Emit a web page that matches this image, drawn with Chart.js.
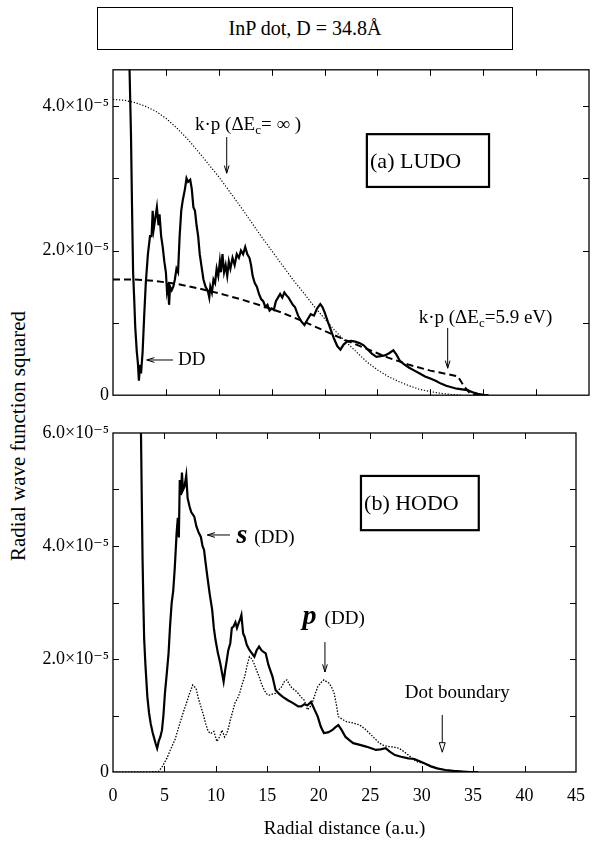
<!DOCTYPE html>
<html>
<head>
<meta charset="utf-8">
<script src="https://cdn.jsdelivr.net/npm/chart.js@4.4.1/dist/chart.umd.min.js"></script>
<style>
  body { margin: 0; background: #fff; width: 598px; height: 842px; position: relative; overflow: hidden; }
  .panel { position: absolute; left: 0; }
  #titleBox {
    position: absolute; left: 97px; top: 7px; width: 416px; height: 43px;
    box-sizing: border-box; border: 1px solid #000;
    font: 20px "Liberation Serif", "DejaVu Serif", serif;
    display: flex; align-items: center; justify-content: center;
  }
  #yTitle {
    position: absolute; left: 18px; top: 436px; width: 300px;
    transform: translate(-50%, -50%) rotate(-90deg);
    text-align: center; white-space: nowrap;
    font: 21px "Liberation Serif", "DejaVu Serif", serif;
  }
</style>
</head>
<body>
<div id="titleBox">InP dot, D = 34.8Å</div>
<div id="yTitle">Radial wave function squared</div>
<canvas id="topChart" class="panel" style="top:55px" width="598" height="355"></canvas>
<canvas id="bottomChart" class="panel" style="top:415px" width="598" height="427"></canvas>
<script>
// all values are in units of 1e-5, x in a.u.

// (a) LUDO, direct diagonalisation
const ludoDD = [
  [1.55,4.6],[1.7,3.6],[1.8,2.6],[1.9,1.7],[2.0,1.35],[2.1,0.95],[2.25,0.6],[2.35,0.45],[2.45,0.2],[2.55,0.42],
  [2.65,0.3],[2.8,0.6],[2.95,1.1],[3.1,1.55],[3.3,1.95],[3.5,2.2],[3.65,2.2],[3.75,2.55],[3.85,2.3],[4.0,2.45],
  [4.15,2.6],[4.3,2.35],[4.4,2.5],[4.55,2.2],[4.7,2.05],[4.85,1.85],[5.0,1.7],[5.1,1.45],[5.2,1.55],[5.3,1.25],
  [5.4,1.5],[5.55,1.45],[5.7,1.5],[5.85,1.6],[6.0,1.75],[6.15,1.7],[6.3,2.2],[6.45,2.55],[6.6,2.7],[6.8,2.85],
  [6.95,3.0],[7.1,2.95],[7.3,2.98],[7.45,2.85],[7.6,2.6],[7.75,2.55],[7.9,2.35],[8.05,2.2],[8.2,1.95],[8.35,1.8],
  [8.55,1.6],[8.75,1.5],[8.95,1.45],[9.1,1.35],[9.2,1.5],[9.35,1.42],[9.5,1.6],[9.65,1.55],[9.8,1.75],[9.95,1.65],
  [10.1,1.85],[10.2,1.7],[10.35,1.95],[10.5,1.7],[10.65,1.8],[10.8,1.65],[10.95,1.85],[11.1,1.75],[11.3,1.9],[11.5,1.8],
  [11.7,1.95],[11.9,1.9],[12.1,2.0],[12.3,1.95],[12.5,2.05],[12.7,1.95],[12.9,1.9],[13.05,1.8],[13.2,1.65],[13.4,1.55],
  [13.6,1.5],[13.8,1.4],[14.0,1.33],[14.2,1.3],[14.4,1.22],[14.6,1.25],[14.8,1.17],[15.0,1.2],[15.2,1.18],[15.4,1.3],
  [15.6,1.35],[15.8,1.4],[16.0,1.35],[16.2,1.42],[16.4,1.38],[16.6,1.35],[16.8,1.3],[17.0,1.25],[17.2,1.22],[17.5,1.1],
  [17.8,1.02],[18.1,0.97],[18.4,1.05],[18.7,1.12],[19.0,1.1],[19.3,1.2],[19.6,1.26],[19.8,1.22],[20.0,1.15],[20.3,1.02],
  [20.6,0.9],[20.9,0.78],[21.2,0.68],[21.5,0.63],[21.8,0.7],[22.1,0.74],[22.5,0.75],[22.9,0.74],[23.3,0.72],[23.7,0.69],
  [24.1,0.63],[24.5,0.57],[24.9,0.53],[25.3,0.54],[25.7,0.55],[26.1,0.58],[26.5,0.62],[26.8,0.56],[27.1,0.48],[27.5,0.43],
  [28.0,0.38],[28.5,0.34],[29.0,0.3],[29.5,0.26],[30.0,0.23],[30.5,0.2],[31.0,0.16],[31.5,0.13],[32.0,0.11],[32.5,0.09],
  [33.0,0.08],[33.5,0.07],[34.0,0.04],[34.5,0.02],[35.0,0.005],[35.5,0]
];

// k.p with infinite barrier (dotted)
const kpInfinite = [
  [0,4.09],[1,4.08],[2,4.05],[3,4.0],[4,3.93],[5,3.83],[6,3.7],[7,3.55],[8,3.38],[9,3.2],
  [10,3.02],[11,2.82],[12,2.62],[13,2.41],[14,2.2],[15,2.0],[16,1.8],[17,1.6],[18,1.42],[19,1.23],
  [20,1.06],[21,0.89],[22,0.74],[23,0.6],[24,0.46],[25,0.35],[26,0.26],[27,0.19],[28,0.13],[29,0.08],
  [30,0.05],[31,0.025],[32,0.01],[33,0]
];

// k.p with 5.9 eV barrier (dashed)
const kpFinite = [
  [0,1.6],[2,1.6],[4,1.58],[6,1.54],[8,1.48],[10,1.41],[12,1.33],[14,1.24],[16,1.14],[18,1.02],
  [20,0.89],[22,0.76],[24,0.64],[26,0.52],[28,0.42],[30,0.34],[32,0.28],[32.6,0.26],[33.2,0.12],[33.8,0.02],[34.6,0]
];

// (b) HODO, s state (solid)
const hodoS = [
  [2.7,6.3],[2.8,4.8],[2.87,3.8],[2.95,3.0],[3.03,2.35],[3.15,1.9],[3.34,1.33],[3.5,1.05],[3.66,0.86],[3.85,0.7],
  [4.0,0.6],[4.15,0.5],[4.29,0.42],[4.45,0.55],[4.6,0.62],[4.76,0.74],[4.9,1.0],[5.05,1.4],[5.23,1.75],[5.4,2.1],
  [5.55,2.6],[5.7,2.99],[5.85,3.2],[6.0,3.6],[6.18,4.22],[6.3,4.5],[6.4,4.15],[6.49,5.17],[6.6,4.9],[6.7,5.3],
  [6.8,4.99],[6.95,5.05],[7.12,5.25],[7.25,4.85],[7.44,4.7],[7.6,4.6],[7.9,4.52],[8.1,4.35],[8.3,4.25],[8.54,4.16],
  [8.7,4.0],[8.85,3.93],[9.0,3.7],[9.17,3.46],[9.4,3.15],[9.64,2.87],[9.8,2.55],[9.96,2.34],[10.2,2.1],[10.43,1.92],
  [10.6,1.75],[10.75,1.6],[10.9,1.8],[11.06,1.98],[11.2,2.15],[11.4,2.28],[11.55,2.55],[11.7,2.57],[11.9,2.65],[12.05,2.55],
  [12.2,2.63],[12.35,2.7],[12.48,2.78],[12.65,2.45],[12.8,2.39],[13.0,2.25],[13.26,2.16],[13.5,2.1],[13.74,2.04],[13.95,2.15],
  [14.2,2.22],[14.45,2.15],[14.84,2.1],[15.1,1.9],[15.5,1.69],[15.8,1.45],[16.1,1.39],[16.5,1.33],[17.0,1.27],[17.5,1.22],
  [18.0,1.16],[18.3,1.16],[18.6,1.2],[18.9,1.18],[19.25,1.24],[19.6,1.1],[19.9,0.98],[20.2,0.8],[20.5,0.69],[20.9,0.7],
  [21.3,0.74],[21.6,0.79],[21.9,0.83],[22.2,0.75],[22.6,0.62],[23.0,0.56],[23.35,0.51],[24.0,0.48],[24.6,0.45],[25.1,0.42],
  [25.55,0.39],[26.0,0.4],[26.5,0.42],[26.9,0.36],[27.4,0.3],[28.0,0.27],[28.7,0.24],[29.3,0.23],[29.8,0.19],[30.3,0.15],
  [30.9,0.1],[31.5,0.065],[32.3,0.035],[33.1,0.02],[34.0,0.008],[34.7,0],[35.5,0]
];

// (b) HODO, p state (dotted)
const hodoP = [
  [0,0],[2,0],[4.0,0.005],[4.44,0.01],[4.8,0.1],[5.23,0.24],[5.6,0.4],[6.02,0.57],[6.4,0.8],[6.8,1.04],
  [7.1,1.2],[7.44,1.39],[7.75,1.54],[8.07,1.48],[8.3,1.3],[8.54,1.16],[8.8,1.0],[9.0,0.86],[9.25,0.72],[9.5,0.68],
  [9.8,0.72],[10.1,0.54],[10.35,0.62],[10.6,0.74],[10.85,0.62],[11.06,0.68],[11.25,0.8],[11.4,0.92],[11.6,1.05],[11.85,1.22],
  [12.1,1.3],[12.3,1.39],[12.55,1.55],[12.8,1.69],[13.05,1.9],[13.26,2.04],[13.5,2.0],[13.7,1.92],[13.95,1.8],[14.2,1.69],
  [14.45,1.55],[14.7,1.45],[14.95,1.38],[15.15,1.36],[15.5,1.38],[15.8,1.39],[16.1,1.45],[16.4,1.51],[16.65,1.6],[16.9,1.63],
  [17.15,1.55],[17.4,1.48],[17.7,1.45],[18.0,1.39],[18.3,1.32],[18.6,1.27],[18.9,1.1],[19.15,1.15],[19.4,1.24],[19.65,1.38],
  [19.9,1.51],[20.2,1.58],[20.5,1.63],[20.75,1.6],[21.0,1.57],[21.25,1.5],[21.5,1.39],[21.7,1.2],[21.9,0.98],[22.3,0.93],
  [22.7,0.89],[23.3,0.87],[24.0,0.83],[24.5,0.76],[24.9,0.69],[25.4,0.6],[25.9,0.51],[26.3,0.47],[26.8,0.45],[27.3,0.44],
  [27.8,0.42],[28.2,0.37],[28.7,0.3],[29.2,0.22],[29.6,0.18],[30.3,0.15],[30.9,0.1],[31.5,0.065],[32.3,0.035],[33.1,0.02],
  [34.0,0.008],[34.7,0],[35.5,0]
];

const xTicks = [0, 5, 10, 15, 20, 25, 30, 35, 40, 45];
const topMax = 4.5;
const bottomMax = 6;

const serif = '"Liberation Serif", "DejaVu Serif", serif';

function toXY(points) {
  return points.map(p => ({ x: p[0], y: p[1] }));
}

function yLabel(v) {
  if (v === 0) return '0';
  if (v % 2 === 0) return v.toFixed(1) + '×10⁻⁵';
  return '';
}

// draw text made of several pieces (normal / subscript / bold italic)
function drawRich(ctx, x, y, parts) {
  let cx = x;
  parts.forEach(p => {
    ctx.font = p.font;
    ctx.fillText(p.text, cx, y + (p.dy || 0));
    cx += ctx.measureText(p.text).width + (p.gap || 0);
  });
}

function arrow(ctx, x1, y1, x2, y2, hollow) {
  const ang = Math.atan2(y2 - y1, x2 - x1);
  const len = hollow ? 10 : 8;
  const spread = 0.3;
  ctx.beginPath();
  ctx.moveTo(x1, y1);
  ctx.lineTo(hollow ? x2 - len * Math.cos(ang) : x2, hollow ? y2 - len * Math.sin(ang) : y2);
  ctx.stroke();
  ctx.beginPath();
  ctx.moveTo(x2 - len * Math.cos(ang - spread), y2 - len * Math.sin(ang - spread));
  ctx.lineTo(x2, y2);
  ctx.lineTo(x2 - len * Math.cos(ang + spread), y2 - len * Math.sin(ang + spread));
  if (hollow) {
    ctx.closePath();
    ctx.fillStyle = '#fff';
    ctx.fill();
    ctx.stroke();
    ctx.fillStyle = '#000';
  } else {
    ctx.stroke();
  }
}

// frame with inward tick marks on all four sides
const framePlugin = {
  id: 'frame',
  afterDraw(chart) {
    const { ctx, chartArea: a, scales: { x, y } } = chart;
    ctx.save();
    ctx.strokeStyle = '#000';
    ctx.lineWidth = 1.3;
    ctx.strokeRect(a.left, a.top, a.right - a.left, a.bottom - a.top);
    ctx.lineWidth = 1;
    xTicks.forEach(v => {
      if (v === x.min || v === x.max) return;
      const px = Math.round(x.getPixelForValue(v)) + 0.5;
      ctx.beginPath();
      ctx.moveTo(px, a.bottom); ctx.lineTo(px, a.bottom - 6);
      ctx.moveTo(px, a.top); ctx.lineTo(px, a.top + 6);
      ctx.stroke();
    });
    y.ticks.forEach(t => {
      if (t.value <= y.min || t.value >= y.max) return;
      const py = Math.round(y.getPixelForValue(t.value)) + 0.5;
      ctx.beginPath();
      ctx.moveTo(a.left, py); ctx.lineTo(a.left + 6, py);
      ctx.moveTo(a.right, py); ctx.lineTo(a.right - 6, py);
      ctx.stroke();
    });
    ctx.restore();
  }
};

function notesPlugin(drawFn) {
  return {
    id: 'notes',
    afterDatasetsDraw(chart) {
      const { ctx, scales: { x, y } } = chart;
      const X = v => x.getPixelForValue(v);
      const Y = v => y.getPixelForValue(v);
      ctx.save();
      ctx.fillStyle = '#000';
      ctx.strokeStyle = '#000';
      ctx.lineWidth = 1;
      ctx.textBaseline = 'alphabetic';
      ctx.textAlign = 'left';
      drawFn(ctx, X, Y);
      ctx.restore();
    }
  };
}

function baseOptions(yMax, showX, xHeight) {
  return {
    responsive: false,
    animation: false,
    layout: { padding: { left: 0, right: 9, top: showX ? 18 : 10, bottom: 0 } },
    plugins: { legend: { display: false }, tooltip: { enabled: false } },
    elements: { point: { radius: 0 }, line: { tension: 0, borderColor: '#000' } },
    scales: {
      x: {
        type: 'linear', min: 0, max: 45,
        grid: { display: false, drawTicks: false },
        border: { display: false },
        ticks: {
          display: showX, stepSize: 5, autoSkip: false, maxRotation: 0,
          padding: 13, color: '#000', font: { family: serif, size: 18 }
        },
        title: {
          display: showX, text: 'Radial distance (a.u.)', color: '#000',
          font: { family: serif, size: 19 }, padding: { top: 0, bottom: 2 }
        },
        afterFit: s => { s.height = xHeight; }
      },
      y: {
        min: 0, max: yMax,
        grid: { display: false, drawTicks: false },
        border: { display: false },
        ticks: {
          stepSize: 1, autoSkip: false, padding: 4, color: '#000',
          font: { family: serif, size: 18 }, callback: yLabel
        },
        afterFit: s => { s.width = 113; }
      }
    }
  };
}

const topNotes = notesPlugin((ctx, X, Y) => {
  const f = serif;
  drawRich(ctx, X(7.75), Y(3.667), [
    { text: 'k·p (ΔE', font: '19px ' + f },
    { text: 'c', font: '13px ' + f, dy: 4 },
    { text: '= ∞ )', font: '19px ' + f }
  ]);
  arrow(ctx, X(10.75), Y(3.57), X(10.75), Y(3.07));

  ctx.lineWidth = 2.2;
  ctx.strokeRect(X(24.0), Y(3.61), X(35.55) - X(24.0), Y(2.88) - Y(3.61));
  ctx.lineWidth = 1;
  ctx.font = '22px ' + f;
  ctx.fillText('(a) LUDO', X(24.3), Y(3.147));

  arrow(ctx, X(5.67), Y(0.487), X(3.19), Y(0.487));
  ctx.font = '19px ' + f;
  ctx.fillText('DD', X(6.14), Y(0.42));

  drawRich(ctx, X(28.9), Y(1.004), [
    { text: 'k·p (ΔE', font: '19px ' + f },
    { text: 'c', font: '13px ' + f, dy: 4 },
    { text: '=5.9 eV)', font: '19px ' + f }
  ]);
  arrow(ctx, X(31.64), Y(0.93), X(31.64), Y(0.373));
});

const bottomNotes = notesPlugin((ctx, X, Y) => {
  const f = serif;
  ctx.lineWidth = 2.2;
  ctx.strokeRect(X(24.1), Y(5.24), X(35.55) - X(24.1), Y(4.28) - Y(5.24));
  ctx.lineWidth = 1;
  ctx.font = '22px ' + f;
  ctx.fillText('(b) HODO', X(24.4), Y(4.637));

  arrow(ctx, X(11.37), Y(4.195), X(9.17), Y(4.195));
  drawRich(ctx, X(12.0), Y(4.05), [
    { text: 's', font: 'italic bold 28px ' + f, gap: 7 },
    { text: '(DD)', font: '19px ' + f }
  ]);

  drawRich(ctx, X(18.43), Y(2.62), [
    { text: 'p', font: 'italic bold 28px ' + f, gap: 8 },
    { text: '(DD)', font: '19px ' + f }
  ]);
  arrow(ctx, X(20.6), Y(2.30), X(20.6), Y(1.77));

  ctx.font = '19px ' + f;
  ctx.fillText('Dot boundary', X(28.36), Y(1.31));
  arrow(ctx, X(32.0), Y(1.01), X(32.0), Y(0.35), true);
});

new Chart(document.getElementById('topChart'), {
  type: 'line',
  data: {
    datasets: [
      { label: 'k·p (ΔEc=∞)', data: toXY(kpInfinite), borderWidth: 1.2, borderDash: [1.2, 1.8] },
      { label: 'k·p (ΔEc=5.9 eV)', data: toXY(kpFinite), borderWidth: 2, borderDash: [7, 4] },
      { label: 'DD', data: toXY(ludoDD), borderWidth: 2.2 }
    ]
  },
  options: baseOptions(topMax, false, 7),
  plugins: [framePlugin, topNotes]
});

new Chart(document.getElementById('bottomChart'), {
  type: 'line',
  data: {
    datasets: [
      { label: 'p (DD)', data: toXY(hodoP), borderWidth: 1.3, borderDash: [1.5, 1.5] },
      { label: 's (DD)', data: toXY(hodoS), borderWidth: 2.2 }
    ]
  },
  options: baseOptions(bottomMax, true, 70),
  plugins: [framePlugin, bottomNotes]
});
</script>
</body>
</html>
